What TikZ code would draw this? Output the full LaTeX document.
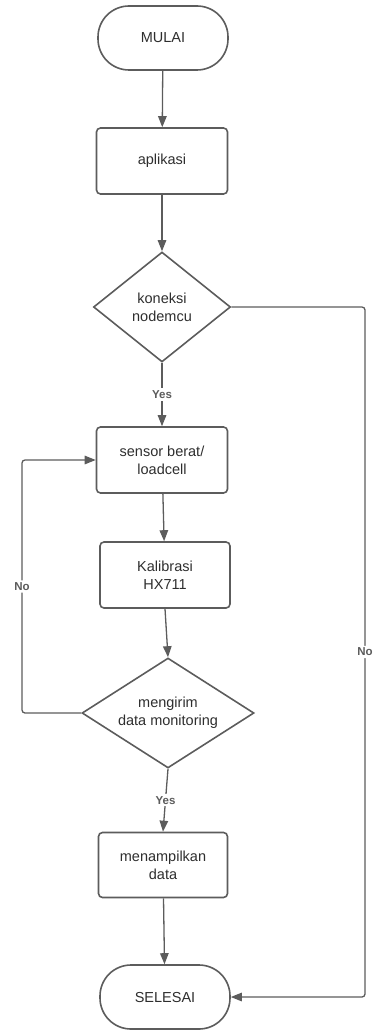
\documentclass[tikz,border=0pt]{standalone}
\usepackage{fontspec}
\setmainfont{Liberation Sans}
\usepackage{xcolor}
\usepackage{tikz}
\usetikzlibrary{shapes.geometric,arrows.meta}
\definecolor{linegray}{HTML}{5C5C5C}
\definecolor{textgray}{HTML}{2E2E2E}

\tikzset{
  flowline/.style={draw=linegray, line width=1.6pt},
  terminal/.style={flowline, rectangle, rounded corners=31pt,
    minimum width=130pt, minimum height=64pt},
  procbox/.style={flowline, rectangle, rounded corners=4pt,
    minimum width=131pt, minimum height=66pt, align=center},
  decision/.style={flowline, diamond, inner sep=0pt, align=center},
  arrowline/.style={linegray, line width=1.3pt,
    -{Triangle[length=11pt,width=8.5pt]}},
  answer/.style={fill=white, inner sep=2pt, font=\fontsize{11.5}{13}\selectfont\bfseries\color{textgray}}
}

\begin{document}
\begin{tikzpicture}[x=1pt, y=-1pt,
    every node/.style={font=\fontsize{14.5}{18}\selectfont\color{textgray}}]
  \useasboundingbox (0,0) rectangle (372,1032);

  % main column
  \node[terminal] (mulai) at (163,38) {MULAI};
  \node[procbox] (aplikasi) at (162,161) {aplikasi};
  \node[decision, aspect=1.25, minimum width=137pt, minimum height=110pt] (koneksi) at (162,307) {koneksi\\nodemcu};
  \node[procbox, minimum height=66pt] (sensor) at (162,460) {sensor berat/\\loadcell};
  \node[procbox, minimum width=130pt] (kalibrasi) at (165,575) {Kalibrasi\\HX711};
  \node[decision, aspect=1.56, minimum width=172pt, minimum height=110pt] (kirim) at (168,713) {mengirim\\data monitoring};
  \node[procbox, minimum width=129pt, minimum height=65pt] (tampil) at (163,865) {menampilkan\\data};
  \node[terminal] (selesai) at (165,997) {SELESAI};

  % connectors
  \draw[arrowline] (mulai) -- (aplikasi);
  \draw[arrowline] (aplikasi.south) -- (koneksi.north);
  \draw[arrowline] (koneksi.south) -- node[answer, pos=0.5] (yes1) {Yes} (sensor.north);
  \draw[arrowline] (sensor) -- (kalibrasi);
  \draw[arrowline] (kalibrasi.south) -- (kirim.north);
  \draw[arrowline] (kirim.south) -- node[answer, pos=0.5] (yes2) {Yes} (tampil.north);
  \draw[arrowline] (tampil) -- (selesai);

  % loops
  \coordinate (loopL) at (22,0);
  \coordinate (loopR) at (365,0);
  \draw[arrowline, rounded corners=3pt] (kirim.west) -- (loopL |- kirim.west)
    -- node[answer, pos=0.5] (no1) {No} (loopL |- sensor.west) -- (sensor.west);
  \draw[arrowline, rounded corners=3pt] (koneksi.east) -- (loopR |- koneksi.east)
    -- node[answer, pos=0.5] (no2) {No} (loopR |- selesai.east) -- (selesai.east);
\end{tikzpicture}
\end{document}
